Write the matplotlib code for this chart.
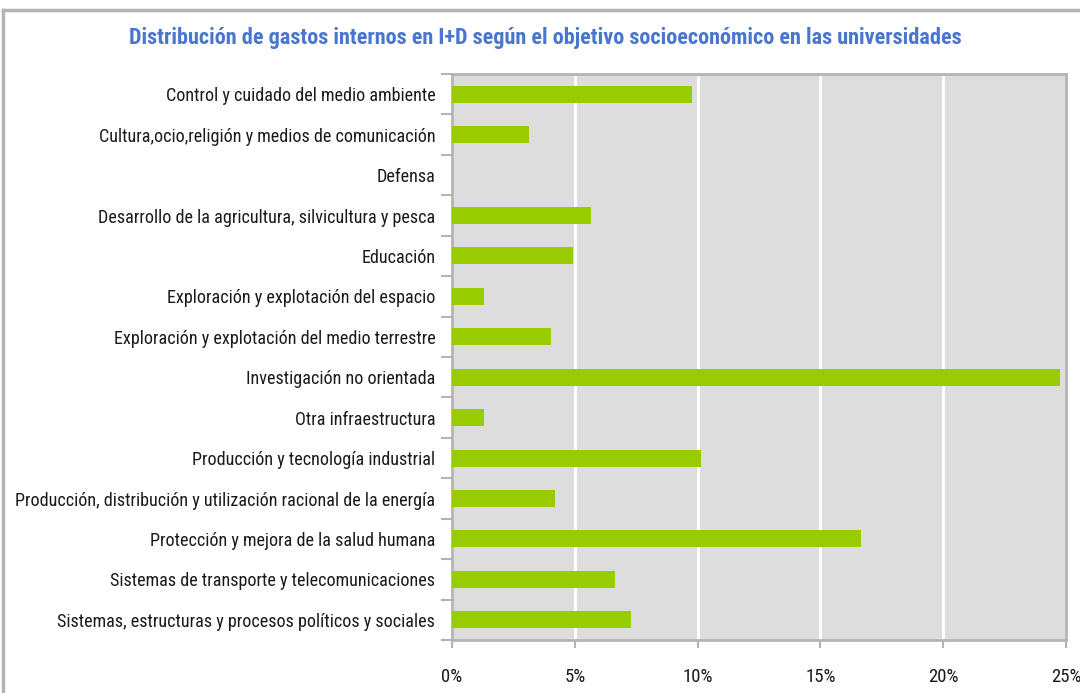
import matplotlib
matplotlib.use("Agg")
import matplotlib.pyplot as plt
import numpy as np
from matplotlib.ticker import FixedLocator, PercentFormatter
from matplotlib.lines import Line2D

title = "Distribución de gastos internos en I+D según el objetivo socioeconómico en las universidades"
categories = [
    "Control y cuidado del medio ambiente",
    "Cultura,ocio,religión y medios de comunicación",
    "Defensa",
    "Desarrollo de la agricultura, silvicultura y pesca",
    "Educación",
    "Exploración y explotación del espacio",
    "Exploración y explotación del medio terrestre",
    "Investigación no orientada",
    "Otra infraestructura",
    "Producción y tecnología industrial",
    "Producción, distribución y utilización racional de la energía",
    "Protección y mejora de la salud humana",
    "Sistemas de transporte y telecomunicaciones",
    "Sistemas, estructuras y procesos políticos y sociales",
]
values = [9.78, 3.14, 0.0, 5.67, 4.93, 1.30, 4.03, 24.76, 1.30, 10.14, 4.19, 16.64, 6.64, 7.29]
xticks = [0, 5, 10, 15, 20, 25]

plt.rcParams['font.family'] = ['Liberation Sans Narrow', 'Roboto Condensed', 'DejaVu Sans']

W, H = 1080, 693
fig = plt.figure(figsize=(W / 100, H / 100), dpi=100)
fig.patch.set_facecolor('white')

# outer chart frame (cropped)
fig.add_artist(Line2D([3 / W, 3 / W], [0, 1 - 10 / H], transform=fig.transFigure, color='#B4B4B4', lw=2.5))
fig.add_artist(Line2D([3 / W, 1], [1 - 10 / H, 1 - 10 / H], transform=fig.transFigure, color='#B4B4B4', lw=2.5))

left, right, top, bottom = 452 / W, 1066 / W, 1 - 74 / H, 1 - 640 / H
ax = fig.add_axes([left, bottom, right - left, top - bottom])
ax.set_facecolor('#DDDDDD')

n = len(categories)
y = np.arange(n)
ax.barh(y, values, height=0.42, color='#99CC00', zorder=3)
ax.set_ylim(n - 0.5, -0.5)
ax.set_xlim(0, 25)

ax.set_yticks(y)
ax.set_yticklabels(categories, fontsize=13.1, color='#1A1A1A')
ax.yaxis.set_minor_locator(FixedLocator(np.arange(-0.5, n, 1.0)))
ax.tick_params(axis='y', which='major', length=0, pad=12)
ax.tick_params(axis='y', which='minor', length=8, width=1.5, color='#B4B4B4')

ax.set_xticks(xticks)
ax.xaxis.set_major_formatter(PercentFormatter(decimals=0))
ax.tick_params(axis='x', which='major', length=6, width=1.5, color='#B4B4B4', pad=14, labelsize=13.5, labelcolor='#1A1A1A')

ax.grid(axis='x', color='white', lw=2, zorder=1)
ax.set_axisbelow(True)
for s in ax.spines.values():
    s.set_color('#B4B4B4')
    s.set_linewidth(2)

fig.text(545 / W, 1 - 38 / H, title, ha='center', va='center', fontsize=16,
         fontweight='semibold', color='#4A76CF')

fig.savefig('out.png', dpi=100)
